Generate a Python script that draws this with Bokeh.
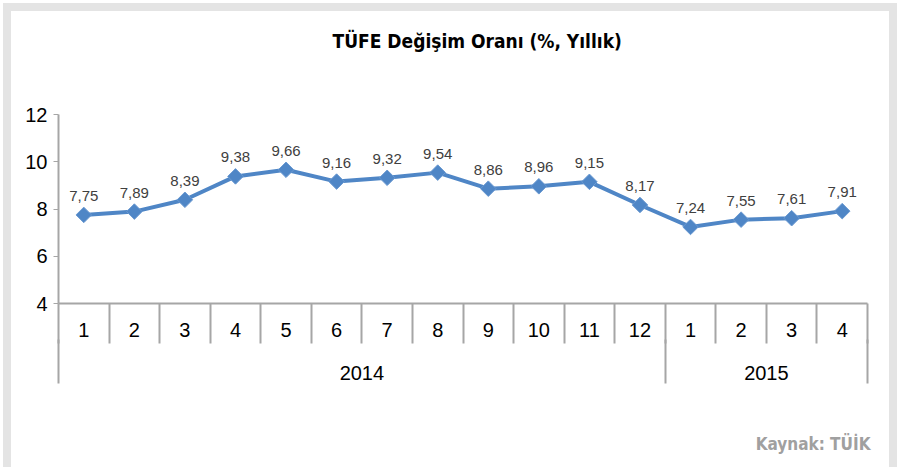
import numpy as np
from bokeh.plotting import figure
from bokeh.models import Range1d, LinearAxis, FixedTicker, Title, ColumnDataSource
from bokeh.core.properties import value
from bokeh.embed import file_html
from bokeh.resources import INLINE

months = ["1", "2", "3", "4", "5", "6", "7", "8", "9", "10", "11", "12", "1", "2", "3", "4"]
years = ["2014"] * 12 + ["2015"] * 4
rates = [7.75, 7.89, 8.39, 9.38, 9.66, 9.16, 9.32, 9.54, 8.86, 8.96, 9.15, 8.17, 7.24, 7.55, 7.61, 7.91]
y_ticks = [4, 6, 8, 10, 12]
title_text = "TÜFE Değişim Oranı (%, Yıllık)"
source_text = "Kaynak: TÜİK"

n = len(months)
xc = [i + 0.5 for i in range(n)]
labels = [f"{v:.2f}".replace(".", ",") for v in rates]
src = ColumnDataSource(dict(x=xc, y=rates, lab=labels))

COND = "Liberation Sans Narrow, DejaVu Sans Condensed, sans-serif"
AX = "#a6a6a6"
W, H = 894, 464

p = figure(width=W, height=H, output_backend="svg", toolbar_location=None,
           x_range=Range1d(0, n), y_range=Range1d(4, 12),
           min_border_left=47, min_border_right=38, min_border_top=103, min_border_bottom=172,
           x_axis_type=None, y_axis_type=None)
p.styles = {"border-style": "solid", "border-color": "#e4e4e4",
            "border-width": "8px 8px 0px 8px", "margin": "3px 0px 0px 3px"}
p.outline_line_color = None
p.xgrid.grid_line_color = None
p.ygrid.grid_line_color = None
p.background_fill_color = "white"
p.border_fill_color = "white"


def spacer(px):
    return LinearAxis(ticker=FixedTicker(ticks=[n / 2]), axis_line_color=None, major_tick_out=px,
                      major_tick_in=0, minor_tick_out=0, minor_tick_in=0,
                      major_tick_line_color=None, minor_tick_line_color=None,
                      major_label_overrides={n / 2: ""}, major_label_standoff=0)


# y axis
ya = LinearAxis(ticker=FixedTicker(ticks=y_ticks), axis_line_color=AX, axis_line_width=2,
                major_tick_line_color=AX, major_tick_out=5, major_tick_in=0, minor_tick_out=0,
                major_label_text_font="Liberation Sans", major_label_text_font_size="20px",
                major_label_text_color="black", major_label_standoff=6)
p.add_layout(ya, "left")

# month level axis
bounds = list(range(n + 1))
mo = LinearAxis(ticker=FixedTicker(ticks=xc, minor_ticks=bounds), axis_line_color=AX, axis_line_width=2,
                major_tick_out=0, major_tick_in=0, minor_tick_out=40, minor_tick_in=0,
                minor_tick_line_color=AX, minor_tick_line_width=2,
                major_label_overrides={x: m for x, m in zip(xc, months)},
                major_label_text_font="Liberation Sans", major_label_text_font_size="20px",
                major_label_text_color="black", major_label_standoff=-21)
p.add_layout(mo, "below")

# year level axis
yrs = []
for y in years:
    if y not in yrs:
        yrs.append(y)
ycent, ybounds = [], [0]
for y in yrs:
    idx = [i for i, v in enumerate(years) if v == y]
    ycent.append((idx[0] + idx[-1] + 1) / 2)
    ybounds.append(idx[-1] + 1)
ya2 = LinearAxis(ticker=FixedTicker(ticks=ycent, minor_ticks=ybounds), axis_line_color=None,
                 major_tick_out=0, major_tick_in=0, minor_tick_out=44, minor_tick_in=0,
                 minor_tick_line_color=AX, minor_tick_line_width=2,
                 major_label_overrides={x: y for x, y in zip(ycent, yrs)},
                 major_label_text_font="Liberation Sans", major_label_text_font_size="20px",
                 major_label_text_color="black", major_label_standoff=-18)
p.add_layout(ya2, "below")

# source note below
p.add_layout(spacer(49), "below")
p.add_layout(Title(text=source_text, align="right", offset=-3, standoff=0, text_font=COND,
                   text_font_size="17px", text_font_style="bold", text_color="#a0a0a0"), "below")

# title above
p.add_layout(spacer(63), "above")
p.add_layout(Title(text=title_text, align="left", offset=274, standoff=0, text_font=COND,
                   text_font_size="19px", text_font_style="bold", text_color="black"), "above")

BLUE = "#4F86C6"
p.line("x", "y", source=src, line_color=BLUE, line_width=4)
p.scatter("x", "y", source=src, marker="square", angle=np.pi / 4, size=11,
          fill_color=BLUE, line_color="#6b9ad2", line_width=1)
p.text("x", "y", text="lab", source=src, text_font=value("Liberation Sans"), text_font_size="15px",
       text_color="#404040", text_align="center", text_baseline="alphabetic", y_offset=-19)

open("out.html", "w").write(file_html(p, INLINE))
